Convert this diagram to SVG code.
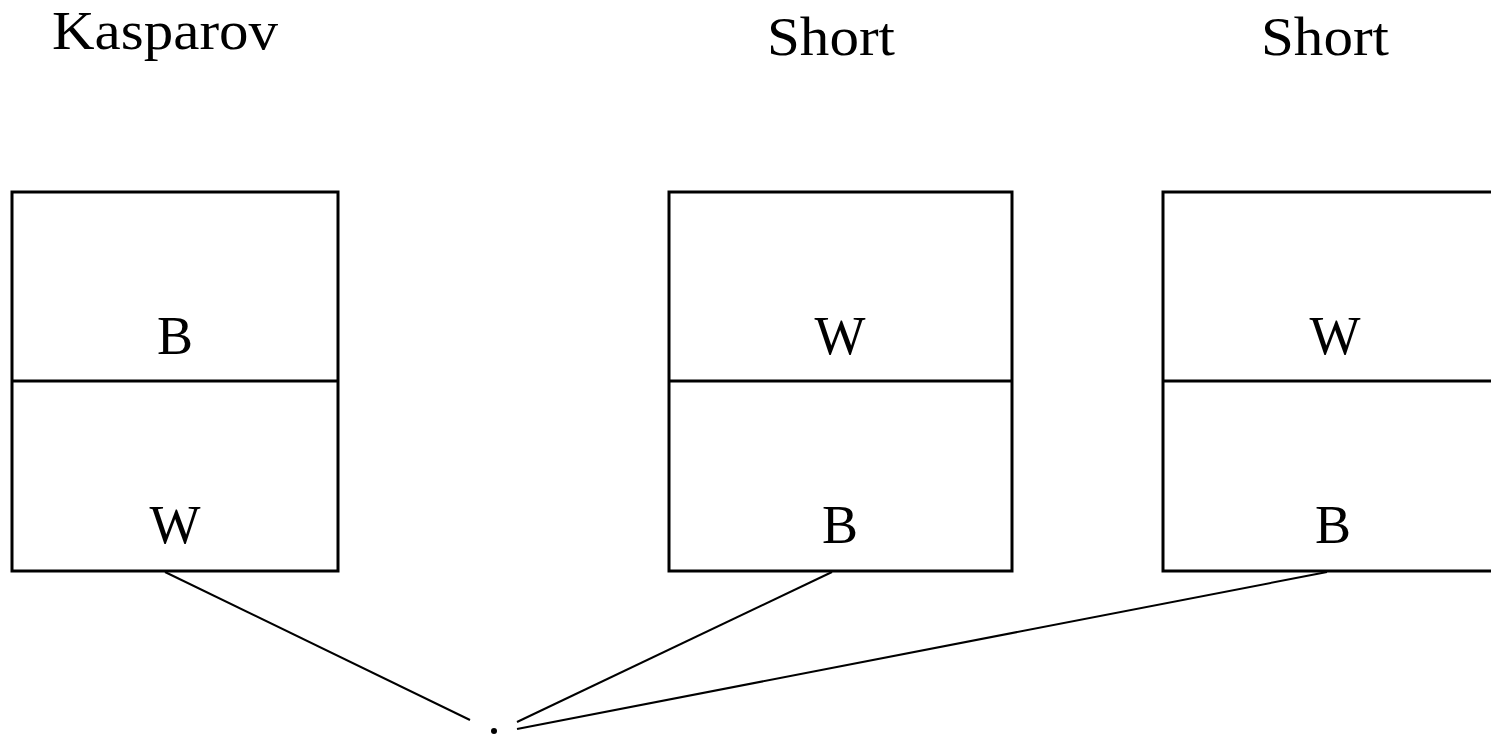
<svg xmlns="http://www.w3.org/2000/svg" width="1491" height="734" viewBox="0 0 1491 734">
<style>
.box{fill:none;stroke:#000;stroke-width:3}
.t{font-family:"Liberation Serif","DejaVu Serif",serif;font-size:54px;fill:#000;text-anchor:middle}
.c{stroke:#000;stroke-width:2;fill:none}
</style>
<rect width="1491" height="734" fill="#fff"/>
<g id="title-kasparov"><text class="t" x="165" y="49" textLength="226" lengthAdjust="spacingAndGlyphs">Kasparov</text></g>
<g id="title-short1"><text class="t" x="831" y="55" textLength="128" lengthAdjust="spacingAndGlyphs">Short</text></g>
<g id="title-short2"><text class="t" x="1325" y="55" textLength="128" lengthAdjust="spacingAndGlyphs">Short</text></g>
<g id="node1">
<rect class="box" x="12" y="192" width="326" height="379"/>
<line class="box" x1="12" y1="381" x2="338" y2="381"/>
<text class="t" x="175" y="354">B</text>
<text class="t" x="175" y="543">W</text>
</g>
<g id="node2">
<rect class="box" x="669" y="192" width="343" height="379"/>
<line class="box" x1="669" y1="381" x2="1012" y2="381"/>
<text class="t" x="840" y="354">W</text>
<text class="t" x="840" y="543">B</text>
</g>
<g id="node3">
<rect class="box" x="1163" y="192" width="340" height="379"/>
<line class="box" x1="1163" y1="381" x2="1503" y2="381"/>
<text class="t" x="1335" y="354">W</text>
<text class="t" x="1333" y="543">B</text>
</g>
<g id="root"><circle cx="494" cy="731" r="3" fill="#000"/></g>
<g id="connectors">
<line class="c" x1="165" y1="572" x2="470" y2="720"/>
<line class="c" x1="832" y1="572" x2="517" y2="722"/>
<line class="c" x1="1327" y1="572" x2="517" y2="729"/>
</g>
</svg>
